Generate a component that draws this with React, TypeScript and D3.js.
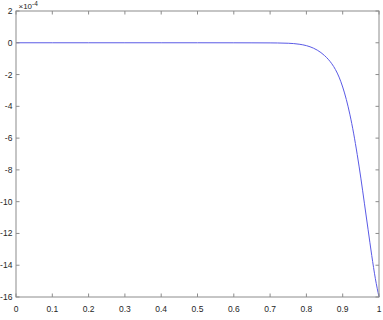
import React from "react";
import * as d3 from "d3";

const xValues = [0, 0.1, 0.2, 0.3, 0.4, 0.5, 0.6, 0.65, 0.7, 0.72, 0.75, 0.78, 0.8, 0.82, 0.83, 0.85, 0.86, 0.87, 0.88, 0.89, 0.9, 0.91, 0.92, 0.93, 0.94, 0.95, 0.96, 0.97, 0.98, 0.99, 1.0];
const yValues = [0, 0, 0, 0, 0, 0, -0.002, -0.004, -0.008, -0.013, -0.03, -0.09, -0.18, -0.345, -0.465, -0.805, -1.035, -1.32, -1.685, -2.16, -2.785, -3.57, -4.535, -5.685, -7.035, -8.52, -10.135, -11.77, -13.385, -14.845, -16.0];
const xTicks = [0, 0.1, 0.2, 0.3, 0.4, 0.5, 0.6, 0.7, 0.8, 0.9, 1];
const yTicks = [2, 0, -2, -4, -6, -8, -10, -12, -14, -16];

export default function App() {
  const W = 383, H = 320;
  const left = 16, right = 379, top = 11, bottom = 297;
  const x = d3.scaleLinear().domain([0, 1]).range([left, right]);
  const y = d3.scaleLinear().domain([-16, 2]).range([bottom, top]);
  const pts = xValues.map((v, i) => [v, yValues[i]] as [number, number]);
  const line = d3.line<[number, number]>().x(d => x(d[0])).y(d => y(d[1])).curve(d3.curveMonotoneX);
  const axisColor = "#262626";
  const frameColor = "#8c8c8c";
  const font = "Liberation Sans, Arial, sans-serif";
  const tl = 3.5;
  return (
    <svg width={W} height={H} style={{ position: "absolute", left: 0, top: 0, background: "#fff" }}>
      <rect x={0} y={0} width={W} height={H} fill="#fff" />
      <path d={line(pts) || ""} fill="none" stroke="#5a5ae6" strokeWidth={1} />
      <rect x={left} y={top} width={right - left} height={bottom - top} fill="none" stroke={frameColor} strokeWidth={1} />
      {xTicks.map(t => (
        <g key={"x" + t}>
          <line x1={x(t)} x2={x(t)} y1={bottom} y2={bottom - tl} stroke={frameColor} strokeWidth={1} />
          <line x1={x(t)} x2={x(t)} y1={top} y2={top + tl} stroke={frameColor} strokeWidth={1} />
          <text x={x(t)} y={bottom + 14.5} textAnchor="middle" fontFamily={font} fontSize={8.5} fill={axisColor}>{String(t)}</text>
        </g>
      ))}
      {yTicks.map(t => (
        <g key={"y" + t}>
          <line x1={left} x2={left + tl} y1={y(t)} y2={y(t)} stroke={frameColor} strokeWidth={1} />
          <line x1={right} x2={right - tl} y1={y(t)} y2={y(t)} stroke={frameColor} strokeWidth={1} />
          <text x={12.4} y={y(t) + 3} textAnchor="end" fontFamily={font} fontSize={8.5} fill={axisColor}>{String(t)}</text>
        </g>
      ))}
      <text x={18.5} y={9} fontFamily={font} fontSize={8} fill={axisColor}>
        ×10
        <tspan dy={-3.5} fontSize={6.5}>-4</tspan>
      </text>
    </svg>
  );
}
